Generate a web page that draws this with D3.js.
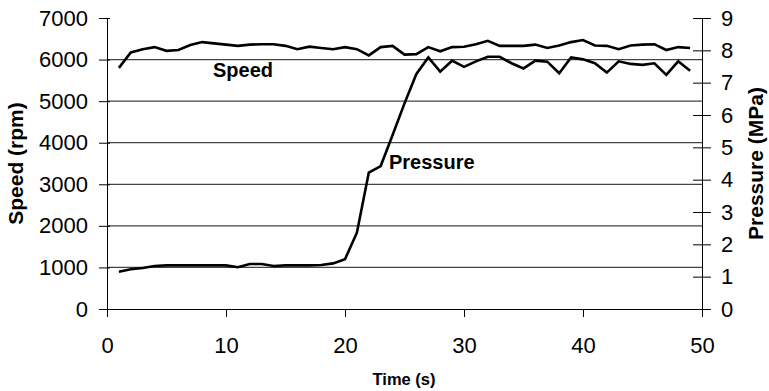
<!DOCTYPE html>
<html>
<head>
<meta charset="utf-8">
<script src="https://cdn.jsdelivr.net/npm/d3@7"></script>
<style>
  body { margin: 0; background: #fff; }
  svg text { font-family: "Liberation Sans", Arial, sans-serif; fill: #000; }
</style>
</head>
<body>
<div id="chart"></div>
<script>
// time in seconds
const time = [1, 2, 3, 4, 5, 6, 7, 8, 9, 10, 11, 12, 13, 14, 15, 16, 17, 18, 19, 20,
  21, 22, 23, 24, 25, 26, 27, 28, 29, 30, 31, 32, 33, 34, 35, 36, 37, 38, 39, 40,
  41, 42, 43, 44, 45, 46, 47, 48, 49];

// speed, rpm (left axis)
const speed = [5800, 6170, 6250, 6300, 6210, 6230, 6350, 6420, 6390, 6360,
  6330, 6360, 6370, 6370, 6330, 6250, 6310, 6280, 6250, 6300,
  6250, 6100, 6300, 6330, 6120, 6130, 6300, 6200, 6300, 6310,
  6370, 6450, 6330, 6330, 6330, 6360, 6280, 6340, 6420, 6470,
  6340, 6330, 6250, 6340, 6360, 6370, 6230, 6300, 6280];

// pressure, MPa (right axis)
const pressure = [1.15, 1.23, 1.27, 1.33, 1.35, 1.35, 1.35, 1.35, 1.35, 1.35,
  1.29, 1.39, 1.39, 1.33, 1.35, 1.35, 1.35, 1.36, 1.41, 1.54,
  2.36, 4.22, 4.42, 5.38, 6.36, 7.27, 7.78, 7.34, 7.68, 7.49,
  7.66, 7.80, 7.80, 7.60, 7.44, 7.68, 7.65, 7.29, 7.78, 7.72,
  7.60, 7.31, 7.66, 7.58, 7.55, 7.60, 7.24, 7.66, 7.37];

const xTicks = [0, 10, 20, 30, 40, 50];
const speedTicks = [0, 1000, 2000, 3000, 4000, 5000, 6000, 7000];
const pressureTicks = [0, 1, 2, 3, 4, 5, 6, 7, 8, 9];

const width = 769, height = 391;
const plotLeft = 107, plotRight = 702, plotTop = 18, plotBottom = 309;

const svg = d3.select('#chart').append('svg')
  .attr('width', width)
  .attr('height', height);

const x = d3.scaleLinear().domain([0, 50]).range([plotLeft, plotRight]);
const yL = d3.scaleLinear().domain([0, 7000]).range([plotBottom, plotTop]);
const yR = d3.scaleLinear().domain([0, 9]).range([plotBottom, plotTop]);

// gridlines
svg.append('g')
  .selectAll('line')
  .data(speedTicks.filter(d => d > 0 && d < 7000))
  .enter()
  .append('line')
  .attr('x1', plotLeft).attr('x2', plotRight)
  .attr('y1', d => yL(d)).attr('y2', d => yL(d))
  .attr('stroke', '#444')
  .attr('stroke-width', 1.2);

// axes
const axisFont = g => g.selectAll('text').style('font-size', '22px');
const plain = d3.format('d');

const gx = svg.append('g')
  .attr('transform', `translate(0,${plotBottom})`)
  .call(d3.axisBottom(x).tickValues(xTicks).tickFormat(plain)
    .tickSize(8).tickSizeOuter(0).tickPadding(20))
  .call(axisFont);
gx.select('.domain').attr('d', `M${plotLeft - 8},0.5H${plotRight + 9}`);

const gl = svg.append('g')
  .attr('transform', `translate(${plotLeft},0)`)
  .call(d3.axisLeft(yL).tickValues(speedTicks).tickFormat(plain)
    .tickSize(8).tickSizeOuter(0).tickPadding(11))
  .call(axisFont);
gl.selectAll('.tick line').attr('x1', 3);

const gr = svg.append('g')
  .attr('transform', `translate(${plotRight},0)`)
  .call(d3.axisRight(yR).tickValues(pressureTicks).tickFormat(plain)
    .tickSize(9).tickSizeOuter(0).tickPadding(10))
  .call(axisFont);
gr.selectAll('.tick line').attr('x1', -9);

svg.selectAll('.domain, .tick line').attr('stroke', '#000');

// series
const speedLine = d3.line()
  .x((d, i) => x(time[i]))
  .y(d => yL(d));

const pressureLine = d3.line()
  .x((d, i) => x(time[i]))
  .y(d => yR(d));

svg.append('path')
  .datum(speed)
  .attr('d', speedLine)
  .attr('fill', 'none')
  .attr('stroke', '#000')
  .attr('stroke-width', 2.6);

svg.append('path')
  .datum(pressure)
  .attr('d', pressureLine)
  .attr('fill', 'none')
  .attr('stroke', '#000')
  .attr('stroke-width', 2.6);

// series labels
svg.append('text')
  .attr('x', 243).attr('y', 77)
  .attr('text-anchor', 'middle')
  .style('font-size', '20px').style('font-weight', 'bold')
  .text('Speed');

svg.append('text')
  .attr('x', 389).attr('y', 169)
  .style('font-size', '20px').style('font-weight', 'bold')
  .text('Pressure');

// axis titles
svg.append('text')
  .attr('transform', `translate(23,${(plotTop + plotBottom) / 2}) rotate(-90)`)
  .attr('text-anchor', 'middle')
  .style('font-size', '21px').style('font-weight', 'bold')
  .text('Speed (rpm)');

svg.append('text')
  .attr('transform', `translate(763,${(plotTop + plotBottom) / 2}) rotate(-90)`)
  .attr('text-anchor', 'middle')
  .style('font-size', '21px').style('font-weight', 'bold')
  .text('Pressure (MPa)');

svg.append('text')
  .attr('x', 404).attr('y', 385)
  .attr('text-anchor', 'middle')
  .style('font-size', '16.5px').style('font-weight', 'bold')
  .text('Time (s)');
</script>
</body>
</html>
